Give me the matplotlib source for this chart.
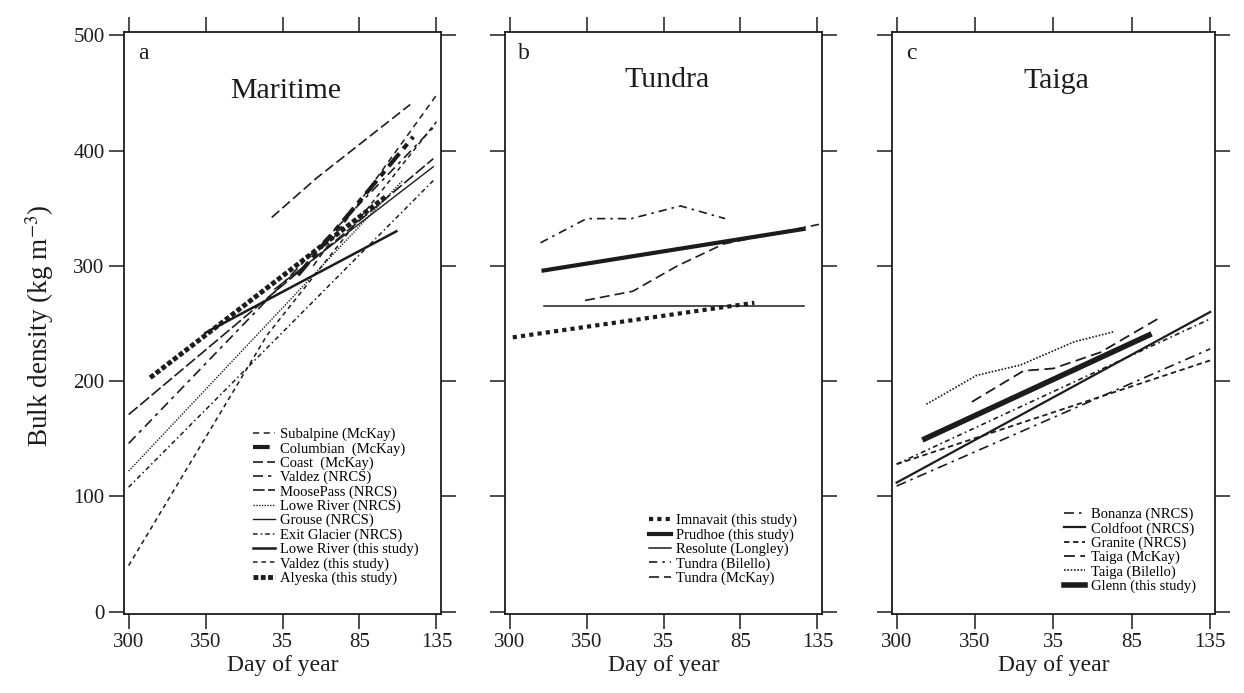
import matplotlib.pyplot as plt

plt.rcParams["font.family"] = ["Liberation Serif", "DejaVu Serif"]
plt.rcParams["mathtext.fontset"] = "stix"

# x axis runs on a continuous day count: values above 365 are days of the next year
tick_days = [300, 350, 400, 450, 500]
tick_labels = ["300", "350", "35", "85", "135"]
y_ticks = [0, 100, 200, 300, 400, 500]

# ---- a: Maritime ----
subalpine_d = [420, 500]
subalpine_v = [300, 448]
columbian_d = [410, 485]
columbian_v = [292, 412]
coast_d = [393, 422, 483]
coast_v = [342, 376, 440]
valdez_nrcs_d = [300, 498]
valdez_nrcs_v = [146, 420]
moosepass_d = [300, 498]
moosepass_v = [171, 393]
lowe_nrcs_d = [300, 478]
lowe_nrcs_v = [122, 374]
grouse_d = [395, 498]
grouse_v = [280, 386]
exit_glacier_d = [300, 498]
exit_glacier_v = [108, 374]
lowe_study_d = [350, 474]
lowe_study_v = [242, 330]
valdez_study_d = [300, 390, 500]
valdez_study_v = [40, 240, 425]
alyeska_d = [314, 468]
alyeska_v = [203, 361]

# ---- b: Tundra ----
imnavait_d = [302, 459]
imnavait_v = [238, 268]
prudhoe_d = [322, 491]
prudhoe_v = [296, 332]
resolute_d = [322, 491]
resolute_v = [265, 265]
tundra_bil_d = [320, 350, 379, 411, 440]
tundra_bil_v = [320, 341, 341, 352, 341]
tundra_mck_d = [349, 380, 409, 439, 501]
tundra_mck_v = [270, 278, 300, 319, 336]

# ---- c: Taiga ----
bonanza_d = [300, 500]
bonanza_v = [109, 228]
bonanza2_d = [300, 500]
bonanza2_v = [128, 254]
coldfoot_d = [300, 500]
coldfoot_v = [112, 260]
granite_d = [300, 500]
granite_v = [128, 218]
taiga_mck_d = [348, 381, 400, 430, 469]
taiga_mck_v = [182, 209, 211, 225, 256]
taiga_bil_d = [319, 351, 379, 413, 439]
taiga_bil_v = [180, 205, 214, 234, 243]
glenn_d = [318, 461]
glenn_v = [150, 240]

k = "#1c1c1c"

fig = plt.figure(figsize=(12.44, 6.93), dpi=100)
axes = [
    fig.add_axes([0.0997, 0.114, 0.2548, 0.840]),
    fig.add_axes([0.406, 0.114, 0.2548, 0.840]),
    fig.add_axes([0.717, 0.114, 0.2596, 0.840]),
]
ax_a, ax_b, ax_c = axes

# Maritime
ax_a.plot(subalpine_d, subalpine_v, color=k, lw=1.1, dashes=(4, 3), label="Subalpine (McKay)")
ax_a.plot(columbian_d, columbian_v, color=k, lw=3, dashes=(4, 1.5, 1.5, 1.5), label="Columbian  (McKay)")
ax_a.plot(coast_d, coast_v, color=k, lw=1.2, dashes=(6, 2.5), label="Coast  (McKay)")
ax_a.plot(valdez_nrcs_d, valdez_nrcs_v, color=k, lw=1.2, dashes=(6, 3, 2, 3), label="Valdez (NRCS)")
ax_a.plot(moosepass_d, moosepass_v, color=k, lw=1.2, dashes=(7, 2), label="MoosePass (NRCS)")
ax_a.plot(lowe_nrcs_d, lowe_nrcs_v, color=k, lw=1.0, dashes=(1, 1), label="Lowe River (NRCS)")
ax_a.plot(grouse_d, grouse_v, color=k, lw=1.0, label="Grouse (NRCS)")
ax_a.plot(exit_glacier_d, exit_glacier_v, color=k, lw=1.1, dashes=(3, 2, 1, 2), label="Exit Glacier (NRCS)")
ax_a.plot(lowe_study_d, lowe_study_v, color=k, lw=1.8, label="Lowe River (this study)")
ax_a.plot(valdez_study_d, valdez_study_v, color=k, lw=1.1, dashes=(3, 2.5), label="Valdez (this study)")
ax_a.plot(alyeska_d, alyeska_v, color=k, lw=3.5, dashes=(1, 0.5), label="Alyeska (this study)")

# Tundra
ax_b.plot(imnavait_d, imnavait_v, color=k, lw=3, dashes=(1, 1), label="Imnavait (this study)")
ax_b.plot(prudhoe_d, prudhoe_v, color=k, lw=3, label="Prudhoe (this study)")
ax_b.plot(resolute_d, resolute_v, color=k, lw=1.1, label="Resolute (Longley)")
ax_b.plot(tundra_bil_d, tundra_bil_v, color=k, lw=1.2, dashes=(5, 3, 1.5, 3), label="Tundra (Bilello)")
ax_b.plot(tundra_mck_d, tundra_mck_v, color=k, lw=1.2, dashes=(6, 3), label="Tundra (McKay)")

# Taiga
ax_c.plot(bonanza_d, bonanza_v, color=k, lw=1.2, dashes=(6, 3, 1.5, 3), label="Bonanza (NRCS)")
ax_c.plot(coldfoot_d, coldfoot_v, color=k, lw=1.6, label="Coldfoot (NRCS)")
ax_c.plot(granite_d, granite_v, color=k, lw=1.3, dashes=(3, 2), label="Granite (NRCS)")
ax_c.plot(taiga_mck_d, taiga_mck_v, color=k, lw=1.3, dashes=(6, 3), label="Taiga (McKay)")
ax_c.plot(taiga_bil_d, taiga_bil_v, color=k, lw=1.2, dashes=(1, 1), label="Taiga (Bilello)")
ax_c.plot(glenn_d, glenn_v, color=k, lw=4, label="Glenn (this study)")
ax_c.plot(bonanza2_d, bonanza2_v, color=k, lw=1.2, dashes=(3, 2, 1, 2))

letters = ["a", "b", "c"]
titles = ["Maritime", "Tundra", "Taiga"]
title_y = [0.898, 0.918, 0.915]
legend_pos = [(0.93, 0.05), (0.92, 0.05), (0.94, 0.036)]

for i, ax in enumerate(axes):
    ax.set_xlim(297, 503)
    ax.set_ylim(-2, 503)
    ax.set_xticks(tick_days)
    ax.set_xticklabels(tick_labels)
    ax.set_yticks(y_ticks)
    ax.tick_params(direction="out", length=11, width=1.1, top=True, right=True,
                   labelsize=15, pad=3, color=k, labelcolor=k)
    if i > 0:
        ax.tick_params(labelleft=False)
    for s in ax.spines.values():
        s.set_linewidth(1.3)
        s.set_color(k)
    ax.set_xlabel("Day of year", fontsize=17, labelpad=2, color=k)
    ax.text(0.06, 0.962, letters[i], transform=ax.transAxes, fontsize=17,
            ha="center", va="center", color=k)
    ax.text(0.51, title_y[i], titles[i], transform=ax.transAxes, fontsize=21.5,
            ha="center", va="center", color=k)
    ax.legend(loc="lower right", bbox_to_anchor=legend_pos[i], frameon=False,
              fontsize=10.5, labelspacing=0.06, handlelength=1.5, handletextpad=0.35,
              borderpad=0, borderaxespad=0)

fig.text(0.032, 0.53, "Bulk density (kg m$^{-3}$)", rotation=90, fontsize=19.5,
         ha="center", va="center", color=k)

fig.savefig("out.png", dpi=100)
